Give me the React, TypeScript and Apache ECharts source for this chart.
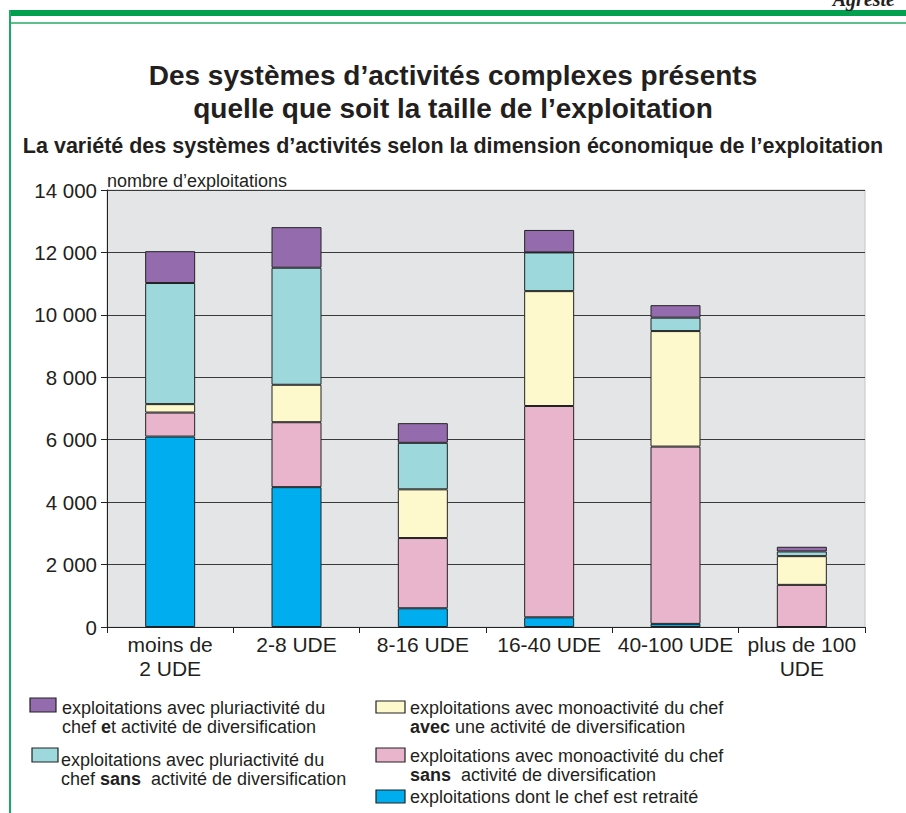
import React, { useEffect, useRef } from "react";
import * as echarts from "echarts";

const categories = ["moins de\n2 UDE", "2-8 UDE", "8-16 UDE", "16-40 UDE", "40-100 UDE", "plus de 100\nUDE"];
const retraite = [6100, 4480, 600, 310, 100, 0];
const monoSans = [770, 2080, 2250, 6770, 5680, 1350];
const monoAvec = [270, 1200, 1560, 3680, 3700, 920];
const pluriSans = [3880, 3750, 1490, 1240, 430, 150];
const pluriEt = [1020, 1300, 630, 720, 400, 150];
const yTicks = { min: 0, max: 14000, interval: 2000 };

const FONT = "'Liberation Sans', Arial, Helvetica, sans-serif";
const TXT = "#231f20";

const seriesDefs = [
  { name: "retraite", data: retraite, color: "#00aeef" },
  { name: "monoSans", data: monoSans, color: "#e9b5cc" },
  { name: "monoAvec", data: monoAvec, color: "#fef9cc" },
  { name: "pluriSans", data: pluriSans, color: "#9dd8dc" },
  { name: "pluriEt", data: pluriEt, color: "#946cad" },
];

function legendRect(x: number, y: number, color: string, w = 26, h = 14) {
  return { type: "rect", shape: { x, y, width: w, height: h }, style: { fill: color, stroke: "#222", lineWidth: 1.2 } };
}

export default function App() {
  const ref = useRef<HTMLDivElement>(null);
  useEffect(() => {
    if (!ref.current) return;
    const chart = echarts.init(ref.current, null, { renderer: "svg" });
    const LF = 18;
    const rich = {
      b: { fontFamily: FONT, fontSize: LF, fontWeight: "bold", color: TXT, lineHeight: 19 },
    };
    const legendText = (x: number, y: number, text: string) => ({
      type: "text",
      x,
      y,
      style: { text, fontFamily: FONT, fontSize: LF, fill: TXT, lineHeight: 19, rich, verticalAlign: "middle" },
    });
    chart.setOption({
      animation: false,
      backgroundColor: "#ffffff",
      grid: {
        left: 107,
        top: 190,
        width: 758,
        height: 437,
        show: true,
        backgroundColor: "#e4e5e7",
        borderColor: "#c4c4c4",
        borderWidth: 1,
      },
      xAxis: {
        type: "category",
        data: categories,
        axisLine: { lineStyle: { color: "#222", width: 1 } },
        axisTick: { show: true, length: 6, alignWithLabel: false, lineStyle: { color: "#222" } },
        axisLabel: { fontFamily: FONT, fontSize: 21, color: TXT, lineHeight: 24, margin: 5, interval: 0 },
      },
      yAxis: {
        type: "value",
        min: yTicks.min,
        max: yTicks.max,
        interval: yTicks.interval,
        axisLine: { show: true, lineStyle: { color: "#222", width: 1 } },
        axisTick: { show: true, length: 6, lineStyle: { color: "#222" } },
        axisLabel: {
          fontFamily: FONT,
          fontSize: 20.5,
          color: TXT,
          margin: 10,
          formatter: (v: number) => {
            const s = String(v);
            return s.length > 3 ? s.slice(0, s.length - 3) + " " + s.slice(-3) : s;
          },
        },
        splitLine: { show: true, lineStyle: { color: "#3a3a3a", width: 1 } },
      },
      series: seriesDefs.map((s) => ({
        type: "bar",
        name: s.name,
        stack: "total",
        data: s.data,
        barWidth: 50,
        itemStyle: { color: s.color, borderColor: "#222", borderWidth: 1 },
      })),
      graphic: [
        // frame
        { type: "rect", shape: { x: 9, y: 10, width: 897, height: 6 }, style: { fill: "#00a04f" } },
        { type: "rect", shape: { x: 11, y: 22, width: 895, height: 2 }, style: { fill: "#5fc08c" } },
        { type: "rect", shape: { x: 9, y: 10, width: 2, height: 803 }, style: { fill: "#1aa862" } },
        {
          type: "text",
          x: 895,
          y: 9,
          style: {
            text: "Agreste",
            fontFamily: "'Liberation Serif', serif",
            fontStyle: "italic",
            fontWeight: "bold",
            fontSize: 20,
            fill: TXT,
            align: "right",
            verticalAlign: "bottom",
          },
        },
        // titles
        {
          type: "text",
          x: 453,
          y: 92,
          style: {
            text: "Des systèmes d’activités complexes présents\nquelle que soit la taille de l’exploitation",
            fontFamily: FONT,
            fontWeight: "bold",
            fontSize: 28,
            lineHeight: 33,
            fill: TXT,
            align: "center",
            verticalAlign: "middle",
          },
        },
        {
          type: "text",
          x: 453,
          y: 146,
          style: {
            text: "La variété des systèmes d’activités selon la dimension économique de l’exploitation",
            fontFamily: FONT,
            fontWeight: "bold",
            fontSize: 21.5,
            fill: TXT,
            align: "center",
            verticalAlign: "middle",
          },
        },
        {
          type: "text",
          x: 107,
          y: 181,
          style: { text: "nombre d’exploitations", fontFamily: FONT, fontSize: 18, fill: TXT, verticalAlign: "middle" },
        },
        // legend
        legendRect(30, 698, "#946cad"),
        legendText(62, 717, "exploitations avec pluriactivité du\nchef {b|e}t activité de diversification"),
        legendRect(32, 748, "#9dd8dc"),
        legendText(61, 769, "exploitations avec pluriactivité du\nchef {b|sans}  activité de diversification"),
        legendRect(376, 701, "#fef9cc", 29, 12),
        legendText(410, 717, "exploitations avec monoactivité du chef\n{b|avec} une activité de diversification"),
        legendRect(376, 748, "#e9b5cc", 29, 14),
        legendText(410, 765, "exploitations avec monoactivité du chef\n{b|sans}  activité de diversification"),
        legendRect(376, 790, "#00aeef", 29, 13),
        legendText(410, 797, "exploitations dont le chef est retraité"),
      ],
    });
    return () => chart.dispose();
  }, []);
  return <div ref={ref} style={{ position: "absolute", left: 0, top: 0, width: 906, height: 813 }} />;
}
